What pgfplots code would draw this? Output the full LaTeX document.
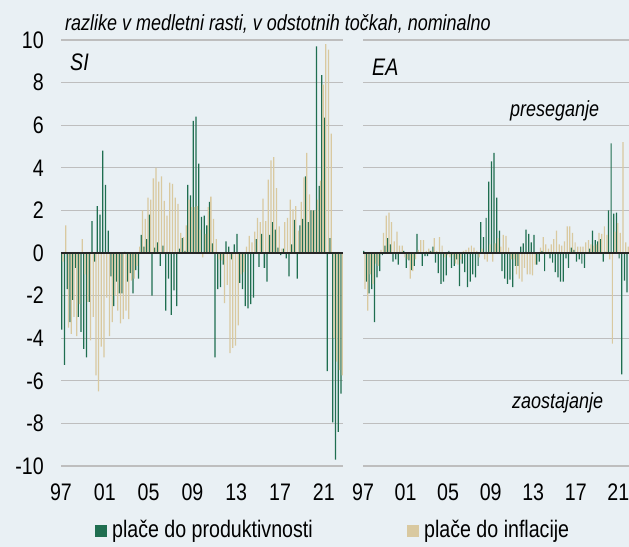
\documentclass[border=0pt]{standalone}
\usepackage{fontspec}
\setmainfont[FakeStretch=0.82]{Liberation Sans}
\usepackage{pgfplots}
\usepackage{pgfplotstable}
\pgfplotsset{compat=1.18}
\definecolor{bg}{RGB}{233,240,244}
\definecolor{gr}{RGB}{31,110,80}
\definecolor{be}{RGB}{217,201,160}
\definecolor{gl}{RGB}{190,190,190}

\pgfplotstableread{
t g b
1997.00 -3.6 -0.4
1997.25 -5.25 1.3
1997.50 -1.7 -3.5
1997.75 -3.25 -3.8
1998.00 -2.2 -3.0
1998.25 -0.7 -3.9
1998.50 -3.0 -2.4
1998.75 -3.7 0.65
1999.00 -4.5 -1.0
1999.25 -4.9 -2.3
1999.50 -2.3 -4.1
1999.75 1.5 -3.0
2000.00 -0.4 -5.75
2000.25 2.2 -6.5
2000.50 1.8 -4.4
2000.75 4.8 -4.9
2001.00 3.2 -2.1
2001.25 1.05 -3.9
2001.50 -1.1 -3.25
2001.75 -2.5 -2.0
2002.00 -1.35 -2.7
2002.25 -1.9 -3.3
2002.50 -1.9 -3.1
2002.75 0.05 -2.7
2003.00 -1.35 -3.1
2003.25 -0.95 -1.3
2003.50 -1.9 -1.2
2003.75 -0.8 -0.6
2004.00 -1.2 0.3
2004.25 0.85 2.0
2004.50 0.3 1.6
2004.75 0.65 2.6
2005.00 1.8 2.5
2005.25 -2.0 3.5
2005.50 0.25 4.0
2005.75 0.5 3.35
2006.00 -0.6 3.6
2006.25 0.35 2.45
2006.50 -2.7 1.75
2006.75 -1.2 3.3
2007.00 -2.9 3.25
2007.25 -1.75 2.6
2007.50 -2.5 2.3
2007.75 0.2 0.95
2008.00 0.7 0.75
2008.25 0.1 1.3
2008.50 3.2 2.5
2008.75 2.7 2.15
2009.00 6.2 2.15
2009.25 6.4 2.2
2009.50 4.2 1.1
2009.75 1.7 -0.2
2010.00 1.75 0.9
2010.25 1.3 2.15
2010.50 2.4 2.65
2010.75 0.45 1.6
2011.00 -4.9 0.65
2011.25 -1.7 -0.3
2011.50 -1.6 -0.35
2011.75 -0.55 -2.35
2012.00 0.55 -1.5
2012.25 0.3 -4.7
2012.50 -0.3 -4.45
2012.75 0.4 -4.35
2013.00 0.9 -3.4
2013.25 -1.4 -1.0
2013.50 -1.7 -0.9
2013.75 -2.5 0.3
2014.00 -2.6 0.8
2014.25 -2.4 0.5
2014.50 -2.1 1.0
2014.75 0.65 1.65
2015.00 -0.65 1.45
2015.25 0.9 2.55
2015.50 -0.7 1.5
2015.75 -1.35 3.45
2016.00 0.85 4.35
2016.25 1.45 4.5
2016.50 1.1 3.05
2016.75 0.25 1.25
2017.00 -0.1 0.2
2017.25 0.2 1.45
2017.50 -0.25 1.65
2017.75 -1.1 2.5
2018.00 0.4 2.05
2018.25 1.55 2.2
2018.50 -1.2 1.05
2018.75 1.3 2.4
2019.00 1.6 3.55
2019.25 3.6 4.7
2019.50 1.45 2.75
2019.75 2.0 2.0
2020.00 2.0 2.0
2020.25 9.7 2.5
2020.50 3.15 3.4
2020.75 8.35 7.9
2021.00 6.35 9.8
2021.25 -5.55 9.55
2021.50 0.7 5.6
2021.75 -7.95 -4.0
2022.00 -9.7 -5.1
2022.25 -8.4 -5.5
2022.50 -6.6 -5.75
}\SIdata

\pgfplotstableread{
t g b
1997.00 0.1 -1.7
1997.25 -1.35 -2.7
1997.50 -1.9 -1.0
1997.75 -1.7 -1.45
1998.00 -3.25 -0.5
1998.25 -1.15 -0.6
1998.50 -0.85 0.15
1998.75 -0.1 0.95
1999.00 0.35 1.75
1999.25 0.7 1.9
1999.50 0.4 1.45
1999.75 -0.4 0.55
2000.00 -0.3 1.0
2000.25 -0.55 0.35
2000.50 0.05 0.35
2000.75 0.1 -0.2
2001.00 -0.7 -0.3
2001.25 -0.35 -1.2
2001.50 -0.8 -0.85
2001.75 -0.6 -0.3
2002.00 0.9 0.15
2002.25 0.0 0.6
2002.50 -0.6 0.6
2002.75 -0.15 0.1
2003.00 -0.15 0.2
2003.25 0.1 0.1
2003.50 0.3 0.7
2003.75 -0.45 0.1
2004.00 -0.95 0.75
2004.25 -1.45 0.35
2004.50 -1.35 -0.2
2004.75 -1.05 -0.1
2005.00 0.1 -0.2
2005.25 -0.7 -0.1
2005.50 -0.6 -0.5
2005.75 -0.3 -0.55
2006.00 -1.55 -0.3
2006.25 -0.5 0.1
2006.50 -0.9 0.15
2006.75 -1.6 0.25
2007.00 -1.35 0.35
2007.25 -1.0 0.25
2007.50 -1.15 0.1
2007.75 -0.6 -0.2
2008.00 1.45 0.2
2008.25 0.75 -0.3
2008.50 1.65 -0.4
2008.75 3.35 0.4
2009.00 4.3 -0.4
2009.25 4.7 0.45
2009.50 2.6 0.7
2009.75 1.05 0.3
2010.00 -0.85 0.85
2010.25 -1.2 0.8
2010.50 -1.45 0.25
2010.75 -1.25 -0.3
2011.00 -1.6 -0.3
2011.25 -0.6 -1.0
2011.50 -0.6 -1.2
2011.75 0.3 -1.35
2012.00 0.45 -0.7
2012.25 1.1 -1.0
2012.50 0.9 -1.0
2012.75 0.5 -1.05
2013.00 0.85 -0.55
2013.25 -0.55 0.0
2013.50 -0.4 0.25
2013.75 0.1 0.75
2014.00 -0.85 0.4
2014.25 0.0 0.2
2014.50 -0.25 0.4
2014.75 -0.45 0.65
2015.00 -0.9 1.05
2015.25 -1.15 0.4
2015.50 -1.35 0.35
2015.75 -1.35 0.55
2016.00 -0.25 1.25
2016.25 -0.7 1.25
2016.50 0.25 0.95
2016.75 0.15 0.5
2017.00 -0.4 0.3
2017.25 -0.3 0.3
2017.50 -0.5 0.3
2017.75 -0.7 0.5
2018.00 0.0 0.6
2018.25 0.2 0.4
2018.50 1.05 0.35
2018.75 0.6 0.4
2019.00 0.55 0.95
2019.25 0.65 0.9
2019.50 -0.4 1.25
2019.75 0.05 0.85
2020.00 2.0 -0.3
2020.25 5.15 -4.25
2020.50 1.85 1.0
2020.75 1.9 1.4
2021.00 -0.25 0.95
2021.25 -5.7 5.2
2021.50 -1.3 0.5
2021.75 -1.85 0.3
}\EAdata

\pgfplotsset{
  panel/.style={
    scale only axis, height=426bp,
    ymin=-10, ymax=10, ytick={-10,-8,...,10},
    xmin=1997,
    xtick={1997,2001,2005,2009,2013,2017,2021},
    xticklabels={97,01,05,09,13,17,21},
    axis line style={draw=none},
    major tick length=0pt,
    ymajorgrids, grid style={gl, line width=1.3bp},
    /pgf/number format/assume math mode=true,
    tick label style={font=\fontsize{24}{28}\selectfont},
    xticklabel style={anchor=north, inner sep=0pt, yshift=-18bp},
    yticklabel style={anchor=east, inner sep=0pt, xshift=-17bp},
    clip=true,
  },
  gbar/.style={ybar, bar width=0.115, bar shift=0pt, fill=gr, draw=none},
  bbar/.style={ybar, bar width=0.115, bar shift=0pt, fill=be, draw=none},
}

\begin{document}
\begin{tikzpicture}[x=1bp,y=1bp]
\fill[bg] (0,0) rectangle (629,547);
\useasboundingbox (0,0) rectangle (629,547);

\begin{axis}[panel, at={(61bp,81bp)}, anchor=south west, width=282bp, xmax=2022.75]
\addplot[gbar] table[x expr=\thisrow{t}+0.07, y=g]{\SIdata};
\addplot[bbar] table[x expr=\thisrow{t}+0.185, y=b]{\SIdata};
\addplot[black!85, line width=1.3bp, forget plot] coordinates {(1997,0) (2022.75,0)};
\end{axis}

\begin{axis}[panel, at={(363bp,81bp)}, anchor=south west, width=266bp, xmax=2022, yticklabels={}]
\addplot[gbar] table[x expr=\thisrow{t}+0.07, y=g]{\EAdata};
\addplot[bbar] table[x expr=\thisrow{t}+0.185, y=b]{\EAdata};
\addplot[black!85, line width=1.3bp, forget plot] coordinates {(1997,0) (2022,0)};
\end{axis}

\node[anchor=base west, inner sep=0pt, font=\fontsize{22}{26}\selectfont\itshape] at (65,516) {razlike v medletni rasti, v odstotnih točkah, nominalno};
\node[anchor=west, inner sep=0pt, font=\fontsize{24}{28}\selectfont\itshape] at (70,485) {SI};
\node[anchor=west, inner sep=0pt, font=\fontsize{24}{28}\selectfont\itshape] at (372,480) {EA};
\node[anchor=west, inner sep=0pt, font=\fontsize{22}{26}\selectfont\itshape] at (510,436) {preseganje};
\node[anchor=west, inner sep=0pt, font=\fontsize{22}{26}\selectfont\itshape] at (512,144) {zaostajanje};

\fill[gr] (95,10) rectangle (107,22);
\node[anchor=west, inner sep=0pt, font=\fontsize{24}{28}\selectfont] at (112,16) {plače do produktivnosti};
\fill[be] (407,10) rectangle (419,22);
\node[anchor=west, inner sep=0pt, font=\fontsize{24}{28}\selectfont] at (424,16) {plače do inflacije};
\end{tikzpicture}
\end{document}
